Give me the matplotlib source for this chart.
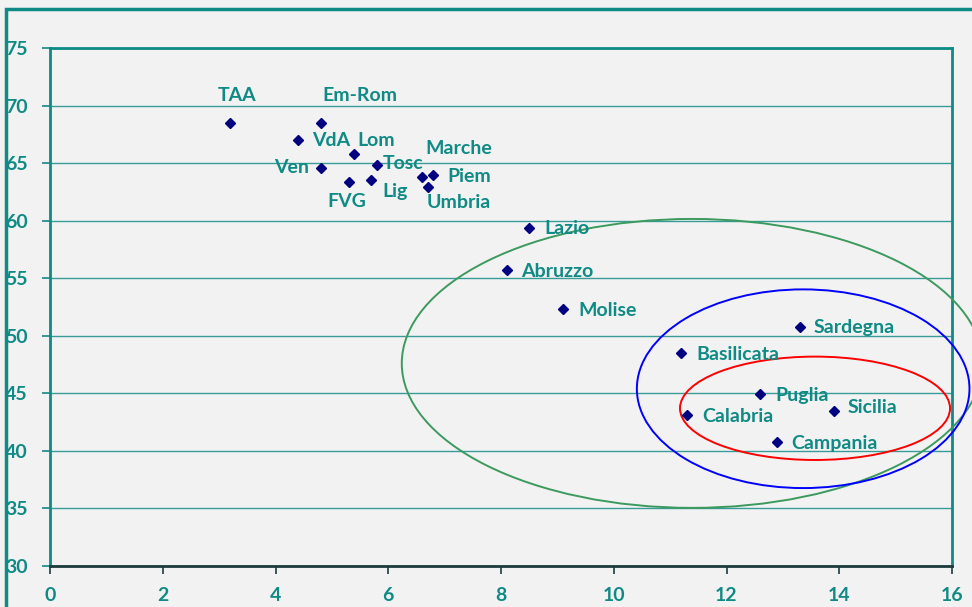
import matplotlib
matplotlib.use("Agg")
import matplotlib.pyplot as plt
from matplotlib.patches import Ellipse, Rectangle

# ---- data ----
regions = ["TAA", "Em-Rom", "VdA", "Ven", "Lom", "Tosc", "FVG", "Lig",
           "Marche", "Piem", "Umbria", "Lazio", "Abruzzo", "Molise",
           "Sardegna", "Basilicata", "Puglia", "Sicilia", "Calabria", "Campania"]
x_vals = [3.2, 4.8, 4.4, 4.8, 5.4, 5.8, 5.3, 5.7,
          6.6, 6.8, 6.7, 8.5, 8.1, 9.1,
          13.3, 11.2, 12.6, 13.9, 11.3, 12.9]
y_vals = [68.5, 68.5, 67.0, 64.6, 65.8, 64.8, 63.4, 63.5,
          63.8, 64.0, 62.9, 59.4, 55.7, 52.3,
          50.8, 48.5, 44.9, 43.5, 43.1, 40.8]
x_ticks = [0, 2, 4, 6, 8, 10, 12, 14, 16]
y_ticks = [30, 35, 40, 45, 50, 55, 60, 65, 70, 75]

# ellipses: centre x, centre y, width, height, colour
ellipse_cx = [11.39, 13.36, 13.57]
ellipse_cy = [47.6, 45.4, 43.7]
ellipse_w = [10.3, 5.9, 4.79]
ellipse_h = [25.1, 17.26, 8.98]
ellipse_colors = ["#3c9a5f", "#0000ff", "#ff0000"]

# label offsets (pixels) and alignment
label_style = {
    "TAA": (7, 27, "center"), "Em-Rom": (2, 27, "left"), "VdA": (14, 0, "left"),
    "Ven": (-11, 0, "right"), "Lom": (3, 13, "left"), "Tosc": (6, 2, "left"),
    "FVG": (-1.5, -20, "center"), "Lig": (11, -11, "left"), "Marche": (3, 28, "left"),
    "Piem": (14, -1.5, "left"), "Umbria": (-1, -15, "left"), "Lazio": (15, -1, "left"),
    "Abruzzo": (14, -1, "left"), "Molise": (15, -1.5, "left"), "Sardegna": (14, -1, "left"),
    "Basilicata": (15, -1, "left"), "Puglia": (15, -1, "left"), "Sicilia": (14, 3, "left"),
    "Calabria": (15, -1.5, "left"), "Campania": (14, -1.5, "left"),
}

TEAL = "#0f8a84"
BG = "#f2f2f2"
plt.rcParams['font.family'] = ['Lato', 'DejaVu Sans']

fig = plt.figure(figsize=(9.72, 6.07), dpi=100, facecolor=BG)
ax = fig.add_axes([50 / 972, 41 / 607, 902 / 972, 518 / 607])
ax.set_facecolor(BG)

# outer border
fig.patches.append(Rectangle((6 / 972, -0.2), 2.0, 1.2 - 9 / 607, transform=fig.transFigure,
                             fill=False, edgecolor=TEAL, linewidth=2.5))

ax.set_xlim(0, 16)
ax.set_ylim(30, 75)
ax.set_xticks(x_ticks)
ax.set_yticks(y_ticks)
ax.set_xticklabels([str(t) for t in x_ticks])
ax.set_yticklabels([str(t) for t in y_ticks])

ax.grid(axis="y", color="#3a9c98", linewidth=1.0)
ax.set_axisbelow(True)

for side in ["left", "top", "right"]:
    ax.spines[side].set_color(TEAL)
    ax.spines[side].set_linewidth(2.0)
ax.spines["bottom"].set_color("#1c3c3c")
ax.spines["bottom"].set_linewidth(2.0)

ax.tick_params(axis="y", direction="out", length=6, width=1.2, color=TEAL,
               labelcolor=TEAL, labelsize=14, pad=10)
ax.tick_params(axis="x", direction="out", length=6, width=1.2, color="#1c3c3c",
               labelcolor=TEAL, labelsize=14, pad=9)
for lbl in ax.get_xticklabels() + ax.get_yticklabels():
    lbl.set_fontweight("bold")

for cx, cy, w, h, c in zip(ellipse_cx, ellipse_cy, ellipse_w, ellipse_h, ellipse_colors):
    e = Ellipse((cx, cy), w, h, fill=False, edgecolor=c, linewidth=1.4, clip_on=False, zorder=3)
    ax.add_patch(e)

ax.plot(x_vals, y_vals, linestyle="none", marker="D", markersize=5.5,
        color="#000080", zorder=4)

for name, xv, yv in zip(regions, x_vals, y_vals):
    dx, dy, ha = label_style[name]
    ax.annotate(name, (xv, yv), xytext=(dx, dy), textcoords="offset pixels",
                ha=ha, va="center", color=TEAL, fontsize=14, fontweight="bold",
                zorder=5)

fig.savefig("out.png", dpi=100, facecolor=BG)
